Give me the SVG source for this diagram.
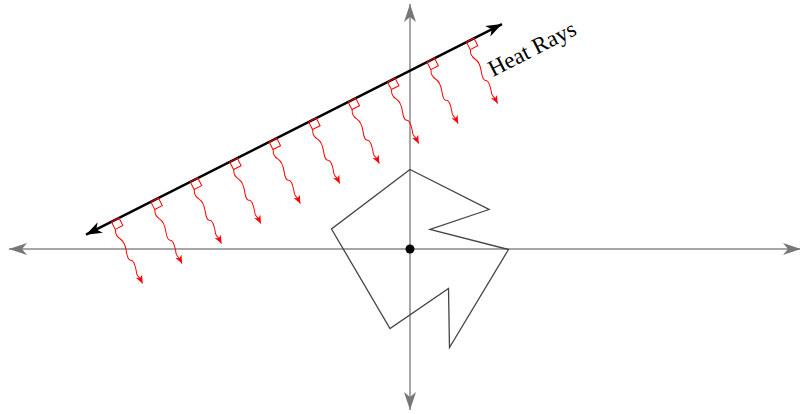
<svg xmlns="http://www.w3.org/2000/svg" width="800" height="414" viewBox="0 0 800 414">
<style>
.axis{stroke:#888;stroke-width:1.5;fill:none}
.shape{stroke:#444;stroke-width:1.3;fill:none;stroke-linejoin:miter}
.beam{stroke:#000;stroke-width:2.5;fill:none}
.ray{stroke:#f00;stroke-width:1;fill:none}
.label{font-family:"Liberation Serif","Times New Roman",serif;font-size:23px;fill:#000}
</style>
<defs>
<marker id="axArrow" markerUnits="userSpaceOnUse" markerWidth="20" markerHeight="14" viewBox="0 0 20 14" refX="18" refY="7" orient="auto-start-reverse">
<path d="M18,7 L0,1 L5,7 L0,13 Z" fill="#777"/>
</marker>
<marker id="beamArrow" markerUnits="userSpaceOnUse" markerWidth="18" markerHeight="14" viewBox="0 0 18 14" refX="16" refY="7" orient="auto-start-reverse">
<path d="M16,7 L0,1.2 L4.5,7 L0,12.8 Z" fill="#000"/>
</marker>
<marker id="rayArrow" markerUnits="userSpaceOnUse" markerWidth="10" markerHeight="9" viewBox="0 0 10 9" refX="8" refY="4.5" orient="auto">
<path d="M8,4.5 L0,1 L2.2,4.5 L0,8 Z" fill="#f00"/>
</marker>
<g id="rayUnit">
<path class="ray" d="M0,0 L8.5,0 L8.5,8.5 L0,8.5"/>
<path class="ray" marker-end="url(#rayArrow)" d="M0,0 L0,9 q-3,5 0,10 t0,14 t0,10 t0,12 q-2,4 0,8 l0,6"/>
</g>
</defs>

<g id="axes">
<line class="axis" x1="9" y1="249" x2="801" y2="249" marker-start="url(#axArrow)" marker-end="url(#axArrow)"/>
<line class="axis" x1="410" y1="4" x2="410" y2="410" marker-start="url(#axArrow)" marker-end="url(#axArrow)"/>
</g>

<g id="shape">
<polygon class="shape" points="410,169.5 489,209.5 430,229.5 508.5,249.5 449.5,347.5 448.5,288.5 390,328.5 331.5,229"/>
</g>

<g id="origin">
<circle cx="410" cy="249" r="4.5" fill="#000"/>
</g>

<g id="heat-rays" transform="translate(86,234.7) rotate(-26.86)">
<line class="beam" x1="0" y1="0" x2="466.3" y2="0" marker-start="url(#beamArrow)" marker-end="url(#beamArrow)"/>
<use href="#rayUnit" x="28.5"/>
<use href="#rayUnit" x="72.7"/>
<use href="#rayUnit" x="116.9"/>
<use href="#rayUnit" x="161.1"/>
<use href="#rayUnit" x="205.3"/>
<use href="#rayUnit" x="249.6"/>
<use href="#rayUnit" x="293.8"/>
<use href="#rayUnit" x="338.0"/>
<use href="#rayUnit" x="382.2"/>
<use href="#rayUnit" x="426.4"/>
</g>

<g id="label">
<text class="label" transform="translate(493,77) rotate(-26.86)">Heat Rays</text>
</g>
</svg>
